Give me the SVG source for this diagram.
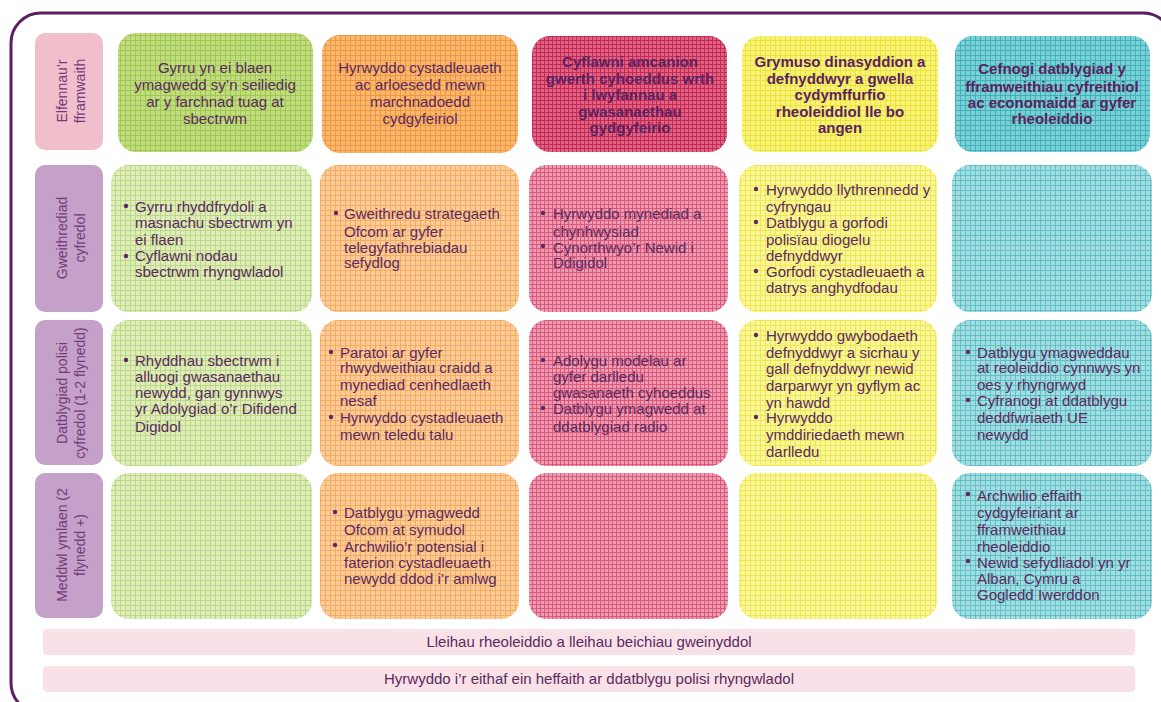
<svg xmlns="http://www.w3.org/2000/svg" width="1161" height="702" viewBox="0 0 1161 702">
<style>
text{font-family:"Liberation Sans",Arial,sans-serif;font-size:15px;fill:#5b2a60}
.hc{text-anchor:middle}
.b{font-weight:bold;fill:#5a2260}
.lbl{font-size:14px;fill:#733a78;text-anchor:middle}
.bar{fill:#f8e1e7}
.dot{fill:#5b2a60}
</style>
<defs>
<pattern id="gH" width="5" height="5" patternUnits="userSpaceOnUse"><rect width="5" height="5" fill="#c1dc82"/><path d="M0 0.5H5M0.5 0V5" stroke="#9fc84c"/></pattern>
<pattern id="gR" width="5" height="5" patternUnits="userSpaceOnUse"><rect width="5" height="5" fill="#dfedbb"/><path d="M0 0.5H5M0.5 0V5" stroke="#bcd886"/></pattern>
<pattern id="oH" width="5" height="5" patternUnits="userSpaceOnUse"><rect width="5" height="5" fill="#f9b771"/><path d="M0 0.5H5M0.5 0V5" stroke="#f0973c"/></pattern>
<pattern id="oR" width="5" height="5" patternUnits="userSpaceOnUse"><rect width="5" height="5" fill="#fbcb98"/><path d="M0 0.5H5M0.5 0V5" stroke="#f5ac62"/></pattern>
<pattern id="rH" width="4" height="4" patternUnits="userSpaceOnUse"><rect width="4" height="4" fill="#df6484"/><path d="M0 0.5H4M0.5 0V4" stroke="#c42a55"/></pattern>
<pattern id="rR" width="4" height="4" patternUnits="userSpaceOnUse"><rect width="4" height="4" fill="#ec9bb0"/><path d="M0 0.5H4M0.5 0V4" stroke="#d9587b"/></pattern>
<pattern id="yH" width="5" height="5" patternUnits="userSpaceOnUse"><rect width="5" height="5" fill="#f7f37a"/><path d="M0 0.5H5M0.5 0V5" stroke="#ece23a"/></pattern>
<pattern id="yR" width="5" height="5" patternUnits="userSpaceOnUse"><rect width="5" height="5" fill="#f9f69c"/><path d="M0 0.5H5M0.5 0V5" stroke="#efe752"/></pattern>
<pattern id="tH" width="5" height="5" patternUnits="userSpaceOnUse"><rect width="5" height="5" fill="#7ccfd4"/><path d="M0 0.5H5M0.5 0V5" stroke="#3fb1ba"/></pattern>
<pattern id="tR" width="5" height="5" patternUnits="userSpaceOnUse"><rect width="5" height="5" fill="#a3dde0"/><path d="M0 0.5H5M0.5 0V5" stroke="#5fc0c7"/></pattern>
</defs>
<rect width="1161" height="702" fill="#ffffff"/>
<rect id="frame" x="11" y="13" width="1162" height="700" rx="30" fill="none" stroke="#5c1f60" stroke-width="3"/>

<g id="label-elfennau">
<rect x="35" y="33" width="68" height="117" rx="10" fill="#f0bfcb"/>
<text class="lbl" transform="translate(67,91) rotate(-90)"><tspan x="0" y="0">Elfennau’r</tspan><tspan x="0" y="18">fframwaith</tspan></text>
</g>
<g id="label-gweithrediad">
<rect x="35" y="165" width="68" height="147" rx="10" fill="#c5a0c8"/>
<text class="lbl" transform="translate(67,238) rotate(-90)"><tspan x="0" y="0">Gweithrediad</tspan><tspan x="0" y="18">cyfredol</tspan></text>
</g>
<g id="label-datblygiad">
<rect x="35" y="320" width="68" height="145" rx="10" fill="#c5a0c8"/>
<text class="lbl" transform="translate(67,393) rotate(-90)"><tspan x="0" y="0">Datblygiad polisi</tspan><tspan x="0" y="18">cyfredol (1-2 flynedd)</tspan></text>
</g>
<g id="label-meddwl">
<rect x="35" y="473" width="68" height="145" rx="10" fill="#c5a0c8"/>
<text class="lbl" transform="translate(67,545) rotate(-90)"><tspan x="0" y="0">Meddwl ymlaen (2</tspan><tspan x="0" y="18">flynedd +)</tspan></text>
</g>

<g id="head-1">
<rect x="118" y="33" width="195" height="119" rx="18" fill="url(#gH)"/>
<text class="hc"><tspan x="215" y="73">Gyrru yn ei blaen</tspan><tspan x="215" y="90">ymagwedd sy’n seiliedig</tspan><tspan x="215" y="107">ar y farchnad tuag at</tspan><tspan x="215" y="124">sbectrwm</tspan></text>
</g>
<g id="head-2">
<rect x="322" y="35" width="196" height="118" rx="18" fill="url(#oH)"/>
<text class="hc"><tspan x="420" y="73">Hyrwyddo cystadleuaeth</tspan><tspan x="420" y="90">ac arloesedd mewn</tspan><tspan x="420" y="107">marchnadoedd</tspan><tspan x="420" y="124">cydgyfeiriol</tspan></text>
</g>
<g id="head-3">
<rect x="532" y="36" width="195" height="116" rx="18" fill="url(#rH)"/>
<text class="hc b"><tspan x="630" y="67">Cyflawni amcanion</tspan><tspan x="630" y="84">gwerth cyhoeddus wrth</tspan><tspan x="630" y="100">i lwyfannau a</tspan><tspan x="630" y="117">gwasanaethau</tspan><tspan x="630" y="133">gydgyfeirio</tspan></text>
</g>
<g id="head-4">
<rect x="742" y="36" width="196" height="116" rx="18" fill="url(#yH)"/>
<text class="hc b"><tspan x="840" y="67">Grymuso dinasyddion a</tspan><tspan x="840" y="84">defnyddwyr a gwella</tspan><tspan x="840" y="100">cydymffurfio</tspan><tspan x="840" y="117">rheoleiddiol lle bo</tspan><tspan x="840" y="133">angen</tspan></text>
</g>
<g id="head-5">
<rect x="955" y="36" width="195" height="116" rx="18" fill="url(#tH)"/>
<text class="hc b"><tspan x="1052" y="74">Cefnogi datblygiad y</tspan><tspan x="1052" y="92">fframweithiau cyfreithiol</tspan><tspan x="1052" y="108">ac economaidd ar gyfer</tspan><tspan x="1052" y="124">rheoleiddio</tspan></text>
</g>

<g id="r2-1">
<rect x="111" y="165" width="201" height="147" rx="18" fill="url(#gR)"/>
<circle class="dot" cx="126" cy="206" r="2.2"/><circle class="dot" cx="126" cy="256" r="2.2"/>
<text><tspan x="135" y="212">Gyrru rhyddfrydoli a</tspan><tspan x="135" y="228">masnachu sbectrwm yn</tspan><tspan x="135" y="245">ei flaen</tspan><tspan x="135" y="261">Cyflawni nodau</tspan><tspan x="135" y="277">sbectrwm rhyngwladol</tspan></text>
</g>
<g id="r2-2">
<rect x="320" y="165" width="199" height="147" rx="18" fill="url(#oR)"/>
<circle class="dot" cx="336" cy="213" r="2.2"/>
<text><tspan x="344" y="219">Gweithredu strategaeth</tspan><tspan x="344" y="237">Ofcom ar gyfer</tspan><tspan x="344" y="253">telegyfathrebiadau</tspan><tspan x="344" y="268">sefydlog</tspan></text>
</g>
<g id="r2-3">
<rect x="529" y="165" width="199" height="147" rx="18" fill="url(#rR)"/>
<circle class="dot" cx="543" cy="213" r="2.2"/><circle class="dot" cx="543" cy="246" r="2.2"/>
<text><tspan x="553" y="219">Hyrwyddo mynediad a</tspan><tspan x="553" y="237">chynhwysiad</tspan><tspan x="553" y="253">Cynorthwyo’r Newid i</tspan><tspan x="553" y="268">Ddigidol</tspan></text>
</g>
<g id="r2-4">
<rect x="739" y="165" width="198" height="147" rx="18" fill="url(#yR)"/>
<circle class="dot" cx="756" cy="189" r="2.2"/><circle class="dot" cx="756" cy="222" r="2.2"/><circle class="dot" cx="756" cy="271" r="2.2"/>
<text><tspan x="766" y="195">Hyrwyddo llythrennedd y</tspan><tspan x="766" y="212">cyfryngau</tspan><tspan x="766" y="228">Datblygu a gorfodi</tspan><tspan x="766" y="245">polisïau diogelu</tspan><tspan x="766" y="261">defnyddwyr</tspan><tspan x="766" y="277">Gorfodi cystadleuaeth a</tspan><tspan x="766" y="293">datrys anghydfodau</tspan></text>
</g>
<g id="r2-5">
<rect x="952" y="165" width="200" height="147" rx="18" fill="url(#tR)"/>
</g>

<g id="r3-1">
<rect x="111" y="320" width="201" height="146" rx="18" fill="url(#gR)"/>
<circle class="dot" cx="126" cy="360" r="2.2"/>
<text><tspan x="135" y="366">Rhyddhau sbectrwm i</tspan><tspan x="135" y="382">alluogi gwasanaethau</tspan><tspan x="135" y="398">newydd, gan gynnwys</tspan><tspan x="135" y="414">yr Adolygiad o’r Difidend</tspan><tspan x="135" y="432">Digidol</tspan></text>
</g>
<g id="r3-2">
<rect x="320" y="320" width="199" height="146" rx="18" fill="url(#oR)"/>
<circle class="dot" cx="331" cy="352" r="2.2"/><circle class="dot" cx="331" cy="417" r="2.2"/>
<text><tspan x="340" y="358">Paratoi ar gyfer</tspan><tspan x="340" y="373">rhwydweithiau craidd a</tspan><tspan x="340" y="390">mynediad cenhedlaeth</tspan><tspan x="340" y="406">nesaf</tspan><tspan x="340" y="423">Hyrwyddo cystadleuaeth</tspan><tspan x="340" y="440">mewn teledu talu</tspan></text>
</g>
<g id="r3-3">
<rect x="529" y="320" width="199" height="146" rx="18" fill="url(#rR)"/>
<circle class="dot" cx="543" cy="360" r="2.2"/><circle class="dot" cx="543" cy="408" r="2.2"/>
<text><tspan x="553" y="366">Adolygu modelau ar</tspan><tspan x="553" y="382">gyfer darlledu</tspan><tspan x="553" y="398">gwasanaeth cyhoeddus</tspan><tspan x="553" y="414">Datblygu ymagwedd at</tspan><tspan x="553" y="432">ddatblygiad radio</tspan></text>
</g>
<g id="r3-4">
<rect x="739" y="320" width="198" height="146" rx="18" fill="url(#yR)"/>
<circle class="dot" cx="756" cy="335" r="2.2"/><circle class="dot" cx="756" cy="417" r="2.2"/>
<text><tspan x="766" y="341">Hyrwyddo gwybodaeth</tspan><tspan x="766" y="358">defnyddwyr a sicrhau y</tspan><tspan x="766" y="374">gall defnyddwyr newid</tspan><tspan x="766" y="391">darparwyr yn gyflym ac</tspan><tspan x="766" y="408">yn hawdd</tspan><tspan x="766" y="423">Hyrwyddo</tspan><tspan x="766" y="440">ymddiriedaeth mewn</tspan><tspan x="766" y="457">darlledu</tspan></text>
</g>
<g id="r3-5">
<rect x="952" y="320" width="200" height="146" rx="18" fill="url(#tR)"/>
<circle class="dot" cx="968" cy="352" r="2.2"/><circle class="dot" cx="968" cy="400" r="2.2"/>
<text><tspan x="977" y="358">Datblygu ymagweddau</tspan><tspan x="977" y="373">at reoleiddio cynnwys yn</tspan><tspan x="977" y="390">oes y rhyngrwyd</tspan><tspan x="977" y="406">Cyfranogi at ddatblygu</tspan><tspan x="977" y="423">deddfwriaeth UE</tspan><tspan x="977" y="440">newydd</tspan></text>
</g>

<g id="r4-1">
<rect x="111" y="473" width="201" height="146" rx="18" fill="url(#gR)"/>
</g>
<g id="r4-2">
<rect x="320" y="473" width="199" height="146" rx="18" fill="url(#oR)"/>
<circle class="dot" cx="335" cy="512" r="2.2"/><circle class="dot" cx="335" cy="545" r="2.2"/>
<text><tspan x="344" y="518">Datblygu ymagwedd</tspan><tspan x="344" y="535">Ofcom at symudol</tspan><tspan x="344" y="552">Archwilio’r potensial i</tspan><tspan x="344" y="568">faterion cystadleuaeth</tspan><tspan x="344" y="584">newydd ddod i’r amlwg</tspan></text>
</g>
<g id="r4-3">
<rect x="529" y="473" width="199" height="146" rx="18" fill="url(#rR)"/>
</g>
<g id="r4-4">
<rect x="739" y="473" width="198" height="146" rx="18" fill="url(#yR)"/>
</g>
<g id="r4-5">
<rect x="952" y="473" width="200" height="146" rx="18" fill="url(#tR)"/>
<circle class="dot" cx="968" cy="494" r="2.2"/><circle class="dot" cx="968" cy="561" r="2.2"/>
<text><tspan x="977" y="501">Archwilio effaith</tspan><tspan x="977" y="518">cydgyfeiriant ar</tspan><tspan x="977" y="535">fframweithiau</tspan><tspan x="977" y="552">rheoleiddio</tspan><tspan x="977" y="568">Newid sefydliadol yn yr</tspan><tspan x="977" y="584">Alban, Cymru a</tspan><tspan x="977" y="600">Gogledd Iwerddon</tspan></text>
</g>

<g id="bar-1">
<rect class="bar" x="43" y="629" width="1092" height="26" rx="4"/>
<text class="hc" x="589" y="647">Lleihau rheoleiddio a lleihau beichiau gweinyddol</text>
</g>
<g id="bar-2">
<rect class="bar" x="43" y="666" width="1092" height="26" rx="4"/>
<text class="hc" x="589" y="684">Hyrwyddo i’r eithaf ein heffaith ar ddatblygu polisi rhyngwladol</text>
</g>
<g id="connectors"/>
</svg>
